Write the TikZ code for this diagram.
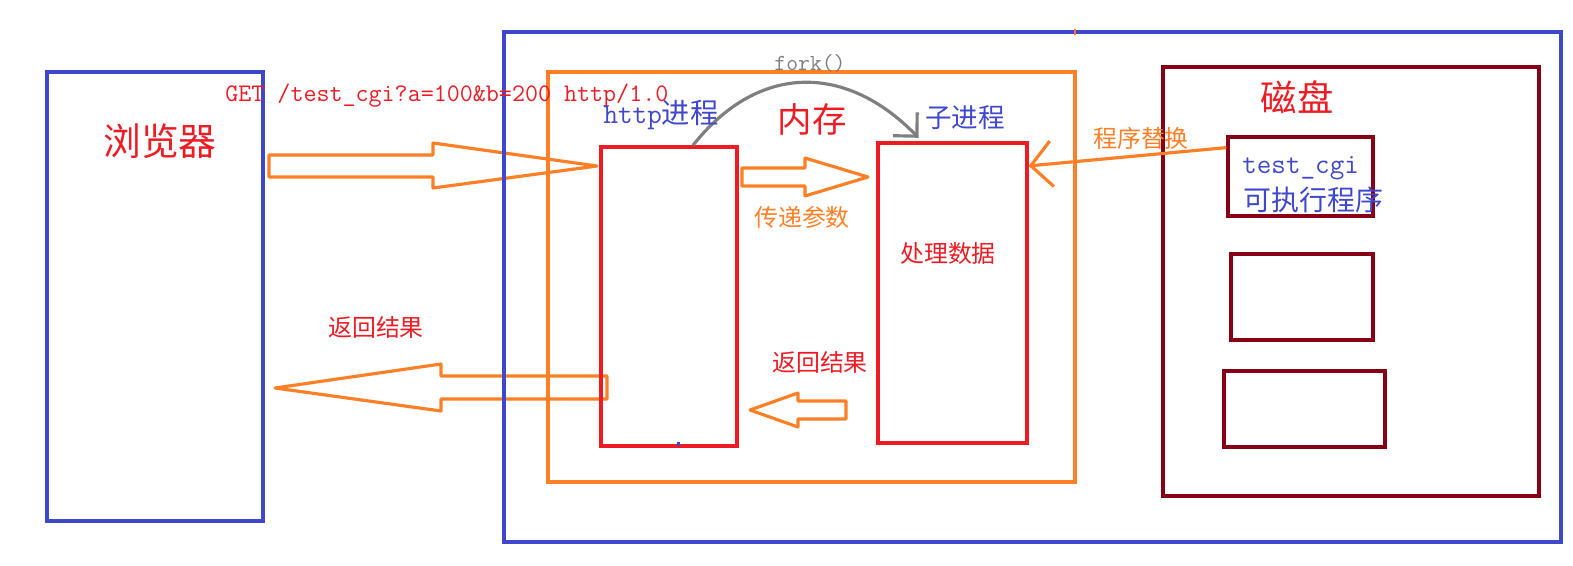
\documentclass[tikz,border=0pt]{standalone}
\usepackage{fontspec}
\newfontfamily\cjk{Noto Sans CJK SC}
\usetikzlibrary{arrows.meta,fit}
\definecolor{paintblue}{RGB}{63,72,204}
\definecolor{paintorange}{RGB}{255,127,39}
\definecolor{paintred}{RGB}{237,28,36}
\definecolor{paintdarkred}{RGB}{136,0,21}
\definecolor{paintgray}{RGB}{127,127,127}

\tikzset{
  frame/.style={draw, line width=1.9pt, inner sep=0pt},
  blockarrow/.style={draw=paintorange, line width=1.8pt, line join=round},
  zh/.style={font=\cjk\fontsize{#1}{#1}\selectfont, inner sep=0pt},
  mono/.style={font=\ttfamily\fontsize{#1}{#1}\selectfont, inner sep=0pt},
}

\begin{document}
\begin{tikzpicture}[x=0.02cm, y=-0.02cm]
    %% 1 unit = 1 pixel of the 1573x565 sketch, y grows downwards
    \useasboundingbox (0,0) rectangle (1573,565);

    % ---- BLOCK ARROWS (under the frames) ----
    % request: browser -> http
    \draw[blockarrow] (269,155) -- (433,155) -- (433,143) -- (597,166)
      -- (433,188) -- (433,177) -- (269,177) -- cycle;
    % params: http -> child
    \draw[blockarrow] (742,168) -- (805,168) -- (805,158) -- (868,177)
      -- (805,196) -- (805,186) -- (742,186) -- cycle;
    % result: child -> http
    \draw[blockarrow] (846,401) -- (798,401) -- (798,393) -- (750,410)
      -- (798,427) -- (798,419) -- (846,419) -- cycle;
    % result: http -> browser
    \draw[blockarrow] (607,376) -- (441,376) -- (441,364) -- (275,388)
      -- (441,411) -- (441,399) -- (607,399) -- cycle;

    % ---- BROWSER ----
    \node[frame, paintblue, fit={(47,72) (263,521)}] (browser) {};
    \node[zh=21.5, paintred] (browserlbl) at (160,141) {浏览器};

    % ---- SERVER / MEMORY ----
    \node[frame, paintblue, fit={(504,32) (1561,542)}] (server) {};
    \node[frame, paintorange, fit={(548,72) (1075,482)}] (mem) {};
    \fill[paintorange] (1074,29) rectangle (1076,35);
    \node[zh=19.6, paintred] (memlbl) at (812,119) {内存};
    \node[frame, paintred, fit={(601,147) (737,446)}] (http) {};
    \fill[paintblue] (677,442) rectangle (680,446);
    \node[frame, paintred, fit={(878,143) (1027,443)}] (child) {};

    % ---- DISK ----
    \node[frame, paintdarkred, fit={(1163,67) (1539,496)}] (disk) {};
    \node[zh=20.7, paintred] (disklbl) at (1297,97) {磁盘};
    \node[frame, paintdarkred, fit={(1228,137) (1373,216)}] (cgi) {};
    \node[frame, paintdarkred, fit={(1231,254) (1373,340)}] (slot1) {};
    \node[frame, paintdarkred, fit={(1224,371) (1385,447)}] (slot2) {};

    % ---- CONNECTORS ----
    \draw[paintgray, line width=1.8pt, -{Straight Barb[length=9.6pt, width=19pt]}]
      ([xshift=-26pt]http.north east) .. controls (758,63) and (846,63) ..
      ([xshift=24pt, yshift=2pt]child.north west);
    \draw[paintorange, line width=1.8pt, -{Straight Barb[length=12pt, width=26pt]}]
      ([yshift=-7pt]cgi.north west) -- ([yshift=-14pt]child.north east);

    % ---- LABELS ----
    \node[mono=14.4, paintred, anchor=base west] (getlbl) at (225,101)
      {GET /test\_cgi?a=100\&b=200 http/1.0};
    \node[mono=13.1, paintgray] (forklbl) at (810,63) {fork()};
    \node[mono=16.1, paintblue] (httplbl) at (661,115) {http\cjk 进程};
    \node[zh=15.1, paintblue] (childlbl) at (965,118) {子进程};
    \node[zh=13.6, paintorange] (paramlbl) at (802,217) {传递参数};
    \node[zh=13.6, paintred] (worklbl) at (948,253) {处理数据};
    \node[zh=13.6, paintred] (backlbl) at (820,362) {返回结果};
    \node[zh=13.6, paintred] (replylbl) at (376,327) {返回结果};
    \node[zh=13.6, paintorange] (execlbl) at (1141,138) {程序替换};
    \node[mono=16.1, paintblue, anchor=base west] (cgilbl) at (1242,173) {test\_cgi};
    \node[zh=15.9, paintblue, anchor=west] (binlbl) at (1243,200) {可执行程序};

  \end{tikzpicture}
\end{document}
